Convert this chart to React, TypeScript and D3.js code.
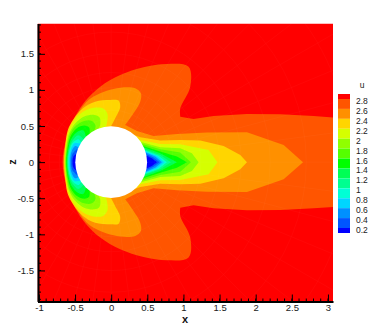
import React, { useRef, useEffect } from "react";
import * as d3 from "d3";

type Pt = [number, number];

// contour outlines of u, upper half only (x, z): the bow part from z = 0 round to the cylinder, then the wake
const front28: Pt[] = [[-0.672, 0], [-0.637, 0.26], [-0.545, 0.538], [-0.383, 0.815], [-0.152, 1.045], [0.125, 1.207], [0.448, 1.314], [0.771, 1.36], [1.071, 1.32], [1.094, 1.045], [0.956, 0.745], [0.956, 0.63]];
const wake28: Pt[] = [[1.14, 0.596], [1.417, 0.64], [1.879, 0.667], [2.34, 0.663], [2.8, 0.64], [3.2, 0.61]];
const front26: Pt[] = [[-0.66, 0], [-0.646, 0.169], [-0.61, 0.331], [-0.531, 0.538], [-0.429, 0.723], [-0.314, 0.861], [-0.152, 0.954], [0.032, 1.014], [0.217, 1.037], [0.333, 1.023], [0.411, 0.954], [0.402, 0.838], [0.309, 0.677], [0.194, 0.515]];
const wake26: Pt[] = [[0.356, 0.432], [0.586, 0.363], [0.91, 0.391], [1.325, 0.409], [1.879, 0.413], [2.387, 0.238], [2.655, 0]];
const front24: Pt[] = [[-0.651, 0], [-0.633, 0.261], [-0.6, 0.446], [-0.522, 0.594], [-0.392, 0.746], [-0.222, 0.838], [-0.014, 0.861], [0.102, 0.852], [0.125, 0.76], [0.079, 0.654], [-0.005, 0.492]];
const wake24: Pt[] = [[0.402, 0.344], [0.679, 0.298], [0.956, 0.307], [1.233, 0.298], [1.556, 0.224], [1.787, 0.1], [1.879, 0]];
const front22: Pt[] = [[-0.644, 0], [-0.623, 0.261], [-0.586, 0.437], [-0.508, 0.584], [-0.383, 0.7], [-0.222, 0.755], [-0.106, 0.741], [-0.051, 0.668], [-0.06, 0.538], [-0.083, 0.469]];
const wake22: Pt[] = [[0.402, 0.307], [0.679, 0.252], [0.956, 0.247], [1.348, 0.169], [1.47, 0]];
const front20: Pt[] = [[-0.637, 0], [-0.614, 0.261], [-0.577, 0.409], [-0.494, 0.538], [-0.374, 0.631], [-0.235, 0.654], [-0.162, 0.621], [-0.152, 0.515], [-0.189, 0.437]];
const wake20: Pt[] = [[0.411, 0.28], [0.679, 0.206], [0.956, 0.192], [1.117, 0.123], [1.21, 0]];
const front18: Pt[] = [[-0.63, 0], [-0.605, 0.252], [-0.568, 0.391], [-0.485, 0.506], [-0.374, 0.571], [-0.268, 0.571], [-0.217, 0.506], [-0.245, 0.409]];
const wake18: Pt[] = [[0.429, 0.252], [0.679, 0.178], [0.956, 0.132], [1.103, 0]];
const front16: Pt[] = [[-0.623, 0], [-0.596, 0.238], [-0.559, 0.363], [-0.475, 0.469], [-0.374, 0.506], [-0.305, 0.478], [-0.3, 0.391]];
const wake16: Pt[] = [[0.439, 0.224], [0.679, 0.146], [0.91, 0.077], [1.048, 0]];
const front14: Pt[] = [[-0.614, 0], [-0.586, 0.224], [-0.545, 0.335], [-0.462, 0.423], [-0.383, 0.437], [-0.351, 0.354]];
const wake14: Pt[] = [[0.448, 0.206], [0.679, 0.123], [0.91, 0]];
const front12: Pt[] = [[-0.605, 0], [-0.577, 0.206], [-0.531, 0.307], [-0.452, 0.372], [-0.383, 0.317]];
const wake12: Pt[] = [[0.457, 0.178], [0.679, 0.1], [0.826, 0]];
const front10: Pt[] = [[-0.596, 0], [-0.568, 0.192], [-0.522, 0.28], [-0.452, 0.317], [-0.416, 0.27]];
const wake10: Pt[] = [[0.471, 0.16], [0.656, 0.09], [0.771, 0]];
const front08: Pt[] = [[-0.582, 0], [-0.559, 0.169], [-0.508, 0.261], [-0.447, 0.261]];
const wake08: Pt[] = [[0.475, 0.146], [0.633, 0.085], [0.734, 0]];
const front06: Pt[] = [[-0.568, 0], [-0.549, 0.146], [-0.498, 0.224], [-0.452, 0.206]];
const wake06: Pt[] = [[0.48, 0.132], [0.609, 0.077], [0.702, 0]];
const front04: Pt[] = [[-0.554, 0], [-0.536, 0.113], [-0.475, 0.178]];
const wake04: Pt[] = [[0.485, 0.113], [0.586, 0.063], [0.669, 0]];
const front02: Pt[] = [[-0.535, 0], [-0.522, 0.077], [-0.485, 0.113]];
const wake02: Pt[] = [[0.489, 0.088], [0.563, 0.055], [0.633, 0]];

const fronts = [front28, front26, front24, front22, front20, front18, front16, front14, front12, front10, front08, front06, front04, front02];
const wakes = [wake28, wake26, wake24, wake22, wake20, wake18, wake16, wake14, wake12, wake10, wake08, wake06, wake04, wake02];

const levels = [2.8, 2.6, 2.4, 2.2, 2, 1.8, 1.6, 1.4, 1.2, 1, 0.8, 0.6, 0.4, 0.2];
const bandColours = ["#ff0000", "#ff5500", "#ff9000", "#ffd500", "#d5ff00", "#90ff00", "#55ff00", "#00ff00", "#00ff55", "#00ff90", "#00ffd5", "#00d5ff", "#0090ff", "#0055ff", "#0000ff"];

const xTicks = [-1, -0.5, 0, 0.5, 1, 1.5, 2, 2.5, 3];
const zTicks = [-1.5, -1, -0.5, 0, 0.5, 1, 1.5];
const xDomain = [-1.02, 3.07];
const zDomain = [-1.93, 1.92];
const cylinderRadius = 0.497;

// O-grid around the cylinder, only just visible under the contours
const meshRadii = [0.6, 0.72, 0.86, 1.03, 1.24, 1.5, 1.8, 2.2, 2.7, 3.3, 4];

const fontFamily = "'Liberation Sans', Arial, sans-serif";

const App = () => {
    const xAxisRef = useRef<SVGGElement>(null);
    const zAxisRef = useRef<SVGGElement>(null);

    const x = d3.scaleLinear().domain(xDomain).range([37.5, 333]);
    const z = d3.scaleLinear().domain(zDomain).range([301.5, 23.5]);
    const legendY = d3.scaleLinear().domain([2.8, 0.2]).range([99, 228]);
    const unit = x(1) - x(0);

    const smooth = d3.line<Pt>().x(d => x(d[0])).y(d => z(d[1])).curve(d3.curveCatmullRom.alpha(0.5));
    const straight = d3.line<Pt>().x(d => x(d[0])).y(d => z(d[1]));
    const flip = (pts: Pt[]): Pt[] => pts.map(([a, b]) => [a, -b] as Pt);

    // the field is symmetric about z = 0
    const regionPath = (front: Pt[], wake: Pt[]) => {
        const bow = [...flip(front.slice(1)).reverse(), ...front];
        const tipOnAxis = wake[wake.length - 1][1] === 0;
        const back = flip(tipOnAxis ? wake.slice(0, -1) : wake).reverse();
        return smooth(bow) + (straight([...wake, ...back]) as string).replace("M", "L") + "Z";
    };

    const legendEdges = [94, ...levels.map(l => legendY(l)), 233];
    const meshAngles = d3.range(0, 360, 7.5).map(d => d * Math.PI / 180);

    useEffect(() => {
        const minorX = d3.range(-10, 31).map(d => d / 10);
        const minorZ = d3.range(-19, 20).map(d => d / 10);

        const xAxis = d3.select(xAxisRef.current);
        xAxis.selectAll("*").remove();
        xAxis.call(d3.axisBottom(x).tickValues(xTicks).tickFormat(d => String(d)).tickSize(-7).tickSizeOuter(0).tickPadding(3) as any);
        xAxis.append("g").selectAll("line").data(minorX).enter().append("line")
            .attr("x1", d => x(d)).attr("x2", d => x(d)).attr("y1", 0).attr("y2", -3)
            .attr("stroke", "#000").attr("stroke-width", 1);

        const zAxis = d3.select(zAxisRef.current);
        zAxis.selectAll("*").remove();
        zAxis.call(d3.axisLeft(z).tickValues(zTicks).tickFormat(d => String(d)).tickSize(-7).tickSizeOuter(0).tickPadding(4) as any);
        zAxis.append("g").selectAll("line").data(minorZ).enter().append("line")
            .attr("y1", d => z(d)).attr("y2", d => z(d)).attr("x1", 0).attr("x2", 3)
            .attr("stroke", "#000").attr("stroke-width", 1);

        [xAxis, zAxis].forEach(axis => {
            axis.selectAll("path").attr("stroke", "#000").attr("stroke-width", 2);
            axis.selectAll(".tick line").attr("stroke", "#000").attr("stroke-width", 1);
            axis.selectAll("text").attr("fill", "#222").style("font-size", "9.5px").style("font-family", fontFamily);
        });
    }, []);

    return (
        <svg width={374} height={332} style={{ position: "absolute", left: 0, top: 0, background: "#fff" }}>
            <defs>
                <clipPath id="plot-area">
                    <rect x={37.5} y={23.5} width={295.5} height={278} />
                </clipPath>
            </defs>
            <g clipPath="url(#plot-area)">
                <rect x={37.5} y={23.5} width={295.5} height={278} fill={bandColours[0]} />
                {fronts.map((f, i) => (
                    <path key={levels[i]} d={regionPath(f, wakes[i])} fill={bandColours[i + 1]} />
                ))}
                <g fill="none" stroke="#fff" strokeOpacity={0.04} strokeWidth={0.8}>
                    {meshRadii.map(r => (
                        <circle key={r} cx={x(0)} cy={z(0)} r={r * unit} />
                    ))}
                    {meshAngles.map(a => (
                        <line key={a} x1={x(0.5 * Math.cos(a))} y1={z(0.5 * Math.sin(a))} x2={x(4 * Math.cos(a))} y2={z(4 * Math.sin(a))} />
                    ))}
                </g>
                <circle cx={x(0)} cy={z(0)} r={cylinderRadius * unit} fill="#fff" />
            </g>
            <g ref={xAxisRef} transform="translate(0,301.5)" />
            <g ref={zAxisRef} transform="translate(38,0)" />
            <text x={185} y={323} textAnchor="middle" fontFamily={fontFamily} fontWeight="bold" fontSize={11} fill="#111">x</text>
            <text transform="translate(16,162) rotate(-90)" textAnchor="middle" fontFamily={fontFamily} fontWeight="bold" fontSize={11} fill="#111">z</text>

            <text x={362} y={88} textAnchor="middle" fontFamily={fontFamily} fontSize={8.5} fill="#222">u</text>
            {bandColours.map((c, i) => (
                <rect key={c} x={338} y={legendEdges[i]} width={12} height={legendEdges[i + 1] - legendEdges[i]} fill={c} />
            ))}
            {levels.map(l => (
                <text key={l} x={356} y={legendY(l) + 5} fontFamily={fontFamily} fontSize={8.5} fill="#222">{l}</text>
            ))}
        </svg>
    );
};

export default App;
